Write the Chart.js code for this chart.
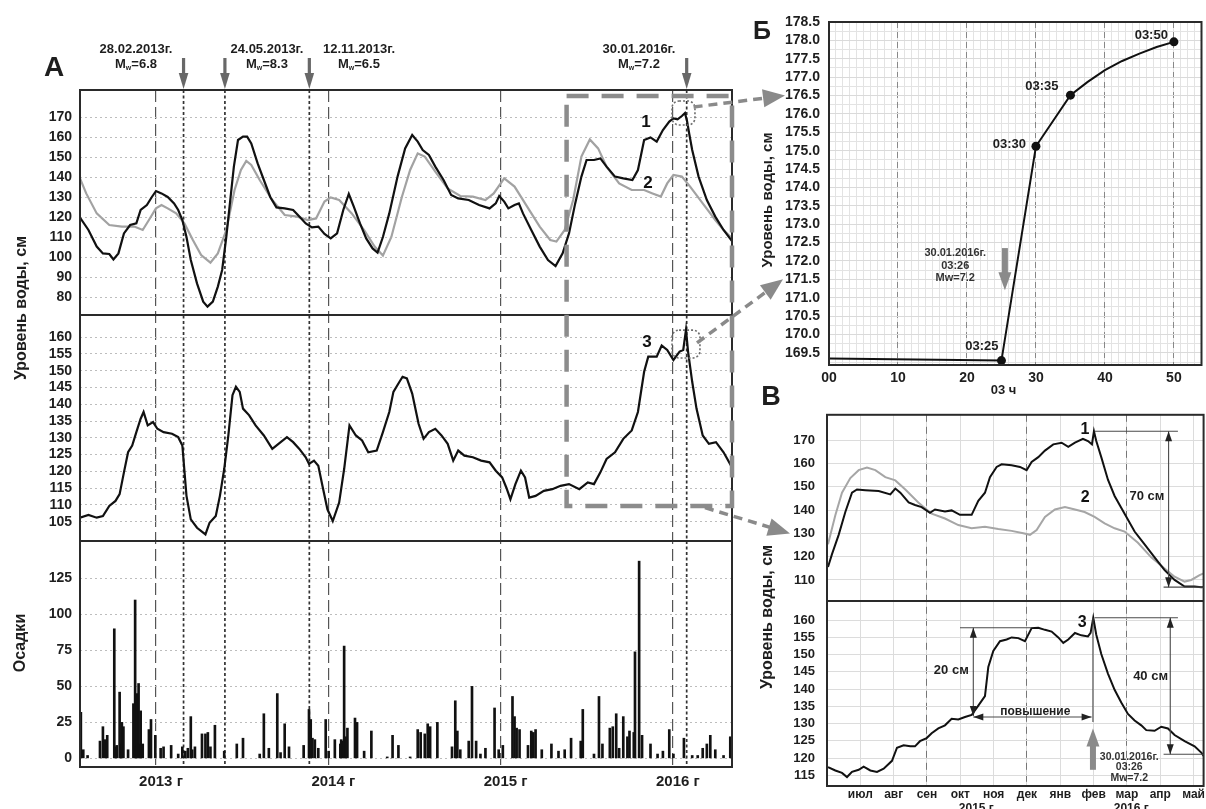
<!DOCTYPE html>
<html lang="ru">
<head>
<meta charset="utf-8">
<title>Уровень воды и осадки</title>
<script src="https://cdn.jsdelivr.net/npm/chart.js@4.4.1/dist/chart.umd.min.js"></script>
<style>
  html, body { margin: 0; padding: 0; background: #fff; }
  #page { position: relative; width: 1206px; height: 809px; overflow: hidden; background: #fff;
          font-family: "Liberation Sans", Arial, sans-serif; font-weight: bold; color: #1e1e1e; }
  #page canvas { position: absolute; }
  .letter { position: absolute; transform: translate(-50%, -50%); line-height: 1; }
  .ytitle { position: absolute; transform: translate(-50%, -50%) rotate(-90deg); white-space: nowrap; line-height: 1; }
</style>
</head>
<body>
<div id="page">
  <canvas id="chartA" width="740" height="800" style="left:0;top:0"></canvas>
  <canvas id="chartB" width="466" height="400" style="left:740px;top:0"></canvas>
  <canvas id="chartC" width="466" height="414" style="left:740px;top:395px"></canvas>
  <canvas id="links" width="1206" height="809" style="left:0;top:0;pointer-events:none"></canvas>
  <div class="letter" style="left:54px;top:67px;font-size:28px">А</div>
  <div class="letter" style="left:762px;top:30px;font-size:25px">Б</div>
  <div class="letter" style="left:771px;top:396px;font-size:27px">В</div>
  <div class="ytitle" style="left:21px;top:308px;font-size:16px">Уровень воды, см</div>
  <div class="ytitle" style="left:20px;top:643px;font-size:16px">Осадки</div>
  <div class="ytitle" style="left:766px;top:200px;font-size:15px">Уровень воды, см</div>
  <div class="ytitle" style="left:767px;top:617px;font-size:16px">Уровень воды, см</div>
</div>
<script>
const FONT = '"Liberation Sans", Arial, Helvetica, sans-serif';

// ---- panel А: 2012-2016, x in decimal years ----
const yearTicks = [2013, 2014, 2015, 2016];
const levelTicksA = [80, 90, 100, 110, 120, 130, 140, 150, 160, 170];
const levelTicksA3 = [105, 110, 115, 120, 125, 130, 135, 140, 145, 150, 155, 160];
const rainTicks = [0, 25, 50, 75, 100, 125];

// series 1 (black)
const level1 = [
  [2012.559,119.7],[2012.608,113.5],[2012.656,105.2],[2012.692,101.8],[2012.729,101.5],[2012.753,98.8],[2012.782,101.8],
  [2012.814,111.8],[2012.850,116],[2012.886,116.8],[2012.911,123.5],[2012.947,126],[2012.976,130],[2013.000,133],
  [2013.032,131.8],[2013.068,130],[2013.105,126.8],[2013.129,123.5],[2013.153,118.5],[2013.177,110],[2013.202,98.5],
  [2013.238,86.8],[2013.274,77.7],[2013.299,75.2],[2013.330,77.7],[2013.359,85.2],[2013.384,93.5],[2013.408,110],
  [2013.427,125.2],[2013.452,145.2],[2013.476,158.5],[2013.505,160.2],[2013.529,160.2],[2013.553,156.8],[2013.590,146.8],
  [2013.626,138.5],[2013.663,130],[2013.699,124.8],[2013.747,124.3],[2013.796,123.5],[2013.832,120.2],[2013.869,116.8],
  [2013.905,114.8],[2013.942,115.2],[2013.978,111.5],[2014.014,109.3],[2014.051,111.8],[2014.087,123.5],[2014.119,131.5],
  [2014.148,125.2],[2014.184,116.8],[2014.220,109.3],[2014.257,104.3],[2014.286,102.2],[2014.317,110],[2014.354,121.8],
  [2014.402,140.2],[2014.446,154.3],[2014.487,161],[2014.519,157.7],[2014.548,153.5],[2014.584,151],[2014.621,145.2],
  [2014.669,138.5],[2014.713,131],[2014.754,129.3],[2014.815,128.5],[2014.875,126],[2014.936,124.3],[2014.972,126.8],
  [2014.992,130.5],[2015.021,127.7],[2015.045,124.3],[2015.081,126],[2015.106,126.8],[2015.130,121.8],[2015.178,113.5],
  [2015.227,105.2],[2015.275,98.5],[2015.319,95.5],[2015.360,101.8],[2015.397,111.8],[2015.433,126.8],[2015.469,140.2],
  [2015.499,148.5],[2015.542,148.5],[2015.579,149.3],[2015.615,145.2],[2015.664,140.2],[2015.712,139.3],[2015.765,138.5],
  [2015.797,143.5],[2015.833,158.5],[2015.870,159.8],[2015.906,157.7],[2015.942,163.5],[2015.979,167.7],[2016.003,169.3],
  [2016.027,168.8],[2016.052,170.5],[2016.070,172],[2016.082,168],[2016.095,161.5],[2016.112,153.5],[2016.149,140.2],
  [2016.197,128.5],[2016.246,120.2],[2016.294,113.5],[2016.331,109.3],[2016.343,108]
];
// series 2 (grey)
const level2 = [
  [2012.559,139.3],[2012.595,131.8],[2012.656,121.8],[2012.729,116],[2012.802,115.2],[2012.874,115.2],[2012.923,113.5],
  [2012.959,118.5],[2013.000,124.3],[2013.032,126],[2013.068,124.3],[2013.117,121.8],[2013.165,116.8],[2013.214,108.5],
  [2013.262,101],[2013.316,97.2],[2013.359,101.8],[2013.408,113.5],[2013.456,133.5],[2013.493,143.5],[2013.524,148],
  [2013.553,146],[2013.602,138.5],[2013.675,128.5],[2013.747,121],[2013.820,120.2],[2013.881,118.5],[2013.929,119.3],
  [2013.978,127.7],[2014.014,129.8],[2014.063,128.5],[2014.136,121.8],[2014.208,113.5],[2014.269,105.2],[2014.317,100.7],
  [2014.366,110],[2014.427,130],[2014.475,143.5],[2014.519,151.8],[2014.560,150.2],[2014.621,142.7],[2014.693,134.3],
  [2014.766,130.5],[2014.839,130.2],[2014.912,128.5],[2014.960,131.8],[2015.021,139.3],[2015.081,135.2],[2015.154,125.2],
  [2015.227,115.2],[2015.288,108.5],[2015.324,107.7],[2015.372,113.5],[2015.421,128.5],[2015.469,150.2],[2015.518,158.8],
  [2015.566,154.3],[2015.615,145.2],[2015.688,136.8],[2015.761,133.5],[2015.833,133.5],[2015.882,131.8],[2015.930,130.2],
  [2015.967,136.8],[2016.003,141],[2016.052,140.2],[2016.100,135.2],[2016.173,126.8],[2016.246,118.5],[2016.294,113.5],
  [2016.343,109.3]
];
// series 3 (black, middle panel)
const level3 = [
  [2012.559,106.2],[2012.608,107],[2012.656,106.2],[2012.692,106.7],[2012.729,109.7],[2012.765,111.2],[2012.789,113.2],
  [2012.814,119.7],[2012.838,125.7],[2012.862,127.7],[2012.886,131.7],[2012.911,135.7],[2012.928,137.7],[2012.952,133.7],
  [2012.983,134.7],[2013.008,132.7],[2013.044,131.7],[2013.093,131.2],[2013.129,130.2],[2013.153,127.7],[2013.177,112.7],
  [2013.202,105.7],[2013.238,103.2],[2013.287,101.2],[2013.311,104.7],[2013.347,106.7],[2013.371,112.7],[2013.396,120.7],
  [2013.420,130.7],[2013.444,142.7],[2013.464,145.2],[2013.486,143.7],[2013.505,138.7],[2013.541,136.7],[2013.578,133.7],
  [2013.626,130.7],[2013.675,126.7],[2013.711,128.2],[2013.760,130.2],[2013.796,128.7],[2013.832,126.7],[2013.869,124.2],
  [2013.888,122.2],[2013.917,123.2],[2013.942,121.7],[2013.966,115.7],[2013.995,108.7],[2014.026,105.2],[2014.063,110.7],
  [2014.092,120.7],[2014.123,133.7],[2014.160,130.7],[2014.196,129.2],[2014.232,125.7],[2014.281,126.2],[2014.317,131.7],
  [2014.354,137.7],[2014.378,143.7],[2014.407,146.2],[2014.431,148.2],[2014.456,147.7],[2014.487,143.2],[2014.524,134.2],
  [2014.553,129.7],[2014.584,131.7],[2014.621,132.7],[2014.657,130.7],[2014.693,128.2],[2014.725,123.2],[2014.754,126.2],
  [2014.790,124.7],[2014.839,124.2],[2014.887,123.2],[2014.936,122.7],[2014.972,120.2],[2015.009,118.2],[2015.033,115.2],
  [2015.057,111.7],[2015.086,116.2],[2015.118,120.2],[2015.142,118.2],[2015.166,112.2],[2015.203,112.7],[2015.251,114.2],
  [2015.300,114.7],[2015.348,115.7],[2015.397,116.2],[2015.457,114.7],[2015.506,116.7],[2015.542,116.2],[2015.579,119.7],
  [2015.615,123.7],[2015.664,125.7],[2015.712,129.7],[2015.761,132.2],[2015.797,137.7],[2015.833,149.7],[2015.857,154.2],
  [2015.906,154.2],[2015.935,157.5],[2015.967,156.2],[2016.003,153.2],[2016.039,155.7],[2016.060,156.2],[2016.076,162.2],
  [2016.088,155.7],[2016.112,146.7],[2016.137,138.7],[2016.173,130.7],[2016.209,128.2],[2016.250,128.7],[2016.294,125.7],
  [2016.343,121.2]
];
// precipitation
const rain = [
  [2012.564,32],[2012.578,6],[2012.603,2],[2012.675,12],[2012.692,22],[2012.705,13],[2012.717,16],[2012.758,90],
  [2012.765,8],[2012.772,9],[2012.789,46],[2012.795,10],[2012.802,25],[2012.811,22],[2012.838,6],[2012.869,38],
  [2012.879,110],[2012.884,8],[2012.889,45],[2012.899,52],[2012.905,10],[2012.911,33],[2012.923,10],[2012.959,20],
  [2012.971,27],[2012.996,16],[2013.027,7],[2013.044,8],[2013.088,9],[2013.129,3],[2013.153,8],[2013.170,5],
  [2013.185,7],[2013.202,29],[2013.210,6],[2013.226,8],[2013.267,17],[2013.287,17],[2013.301,18],[2013.316,8],
  [2013.342,23],[2013.396,5],[2013.469,10],[2013.505,14],[2013.602,3],[2013.626,31],[2013.655,7],[2013.704,45],
  [2013.723,4],[2013.747,24],[2013.772,8],[2013.857,9],[2013.888,34],[2013.898,27],[2013.908,14],[2013.922,13],
  [2013.942,7],[2013.985,27],[2014.002,5],[2014.038,13],[2014.070,10],[2014.075,13],[2014.085,12],[2014.092,78],
  [2014.100,15],[2014.111,21],[2014.155,28],[2014.167,25],[2014.208,5],[2014.250,19],[2014.342,1],[2014.373,16],
  [2014.407,9],[2014.475,1],[2014.519,20],[2014.536,18],[2014.560,17],[2014.577,24],[2014.591,22],[2014.633,25],
  [2014.718,8],[2014.737,40],[2014.749,19],[2014.766,6],[2014.815,12],[2014.834,50],[2014.858,12],[2014.883,3],
  [2014.912,7],[2014.965,35],[2014.989,6],[2015.013,9],[2015.069,43],[2015.081,29],[2015.093,21],[2015.110,20],
  [2015.159,9],[2015.178,19],[2015.190,18],[2015.203,20],[2015.239,6],[2015.295,10],[2015.336,5],[2015.372,6],
  [2015.409,14],[2015.465,12],[2015.477,34],[2015.542,3],[2015.571,43],[2015.591,10],[2015.634,21],[2015.651,22],
  [2015.671,31],[2015.688,7],[2015.712,29],[2015.736,15],[2015.748,19],[2015.773,18],[2015.780,74],[2015.804,137],
  [2015.821,16],[2015.870,10],[2015.911,3],[2015.942,5],[2015.979,20],[2016.003,3],[2016.064,14],[2016.112,2],
  [2016.144,2],[2016.173,7],[2016.197,10],[2016.217,16],[2016.246,6],[2016.294,2],[2016.333,15]
];

const quakeDates = [2013.16, 2013.40, 2013.89, 2016.08];
const quakeNames = ['28.02.2013г.', '24.05.2013г.', '12.11.2013г.', '30.01.2016г.'];
const quakeMw = ['6.8', '8.3', '6.5', '7.2'];
const quakeLabelAt = [2012.884, 2013.644, 2014.178, 2015.803];
const zoomFrame = [2015.383, 180.5, 109.7];          // left year, top level (1-2), bottom level (3)
const peakBoxTop = [2015.995, 2016.128, 166, 178];
const peakBoxMid = [2015.995, 2016.157, 153.8, 162.1];

// ---- panel Б: 30.01.2016, minutes after 03:00 ----
const minuteTicks = [0, 10, 20, 30, 40, 50];
const levelTicksB = [169.5, 170, 170.5, 171, 171.5, 172, 172.5, 173, 173.5, 174, 174.5, 175, 175.5, 176, 176.5, 177, 177.5, 178, 178.5];
const tsMinute = [0, 25, 30, 35, 37.5, 40, 42.5, 45, 47.5, 50];
const tsLevel = [169.35, 169.29, 175.12, 176.51, 176.87, 177.19, 177.44, 177.64, 177.82, 177.96];
const markedMinutes = [25, 30, 35, 50];
const markedNames = ['03:25', '03:30', '03:35', '03:50'];

// ---- panel В: months since 1 Jun 2015 ----
const monthTicks = [1, 2, 3, 4, 5, 6, 7, 8, 9, 10, 11];
const monthNames = ['июл', 'авг', 'сен', 'окт', 'ноя', 'дек', 'янв', 'фев', 'мар', 'апр', 'май'];
const seasonTicks = [3, 6, 9];
const levelTicksV = [110, 120, 130, 140, 150, 160, 170];
const levelTicksV3 = [115, 120, 125, 130, 135, 140, 145, 150, 155, 160];

const vLevel1 = [
  [0.03,115.6],[0.15,121.1],[0.35,129.4],[0.55,139.2],[0.75,147.5],[0.9,148.9],[1.15,148.6],[1.55,148.2],[1.9,146.8],
  [2.05,149.3],[2.2,147.5],[2.45,143.3],[2.64,142.2],[2.84,141.3],[3.09,138.9],[3.24,140.3],[3.54,139.4],[3.74,139.9],
  [3.99,138],[4.34,138],[4.54,144],[4.74,147.5],[4.89,154.2],[5.09,158.6],[5.24,159.7],[5.54,159.3],[5.79,158.6],
  [5.99,157.2],[6.14,160.7],[6.34,162.8],[6.54,165.6],[6.79,168.3],[7.04,169],[7.24,167.2],[7.44,169],[7.68,170.7],
  [7.83,169.7],[7.95,168.3],[8.01,173.9],[8.08,169.7],[8.23,162.8],[8.43,153.1],[8.63,146.1],[8.93,138.5],[9.23,130.8],
  [9.53,125.3],[9.83,119.7],[10.13,114.2],[10.43,110],[10.73,107.2],[11.03,107.2],[11.23,106.9],[11.3,107]
];
const vLevel2 = [
  [0.03,125.3],[0.25,137.8],[0.45,147.5],[0.7,153.8],[0.95,157.2],[1.2,158.3],[1.45,157.2],[1.75,154.2],[2.05,152.8],
  [2.35,148.9],[2.74,143.3],[3.14,138.5],[3.54,136.4],[3.94,133.6],[4.34,132.2],[4.74,132.9],[5.14,131.9],[5.54,131.1],
  [5.89,130.1],[6.09,129.4],[6.29,131.5],[6.54,137.1],[6.84,140.3],[7.14,141.3],[7.44,140.3],[7.73,139.2],[8.03,137.1],
  [8.33,134.3],[8.63,132.2],[8.93,130.8],[9.33,126],[9.73,119.7],[10.13,114.9],[10.43,111.4],[10.73,109.3],[10.93,110],
  [11.18,112.1],[11.3,112.8]
];
const vLevel3 = [
  [0.03,117.4],[0.25,116.4],[0.45,115.7],[0.6,114.5],[0.75,116],[0.95,116.6],[1.1,117.5],[1.3,116.4],[1.5,116],
  [1.7,116.9],[1.95,119.2],[2.1,123],[2.3,123.7],[2.5,123.4],[2.64,123.4],[2.79,124.9],[2.99,125.8],[3.14,127.2],
  [3.34,128.6],[3.54,129.5],[3.74,131.4],[3.94,131.2],[4.14,131.9],[4.34,132.5],[4.54,135.2],[4.74,138],[4.84,146.4],
  [4.99,151.1],[5.19,153.9],[5.39,154.4],[5.54,155],[5.74,154.8],[5.94,153.9],[6.14,157.7],[6.34,157.8],[6.54,157.2],
  [6.74,156.7],[6.94,155],[7.09,153.4],[7.24,154.4],[7.44,156.3],[7.63,155.6],[7.83,155.3],[7.91,156.3],[7.99,160.7],
  [8.08,155.8],[8.23,150.2],[8.43,144.5],[8.63,139.8],[8.83,136.1],[9.03,132.8],[9.23,130.9],[9.43,129.5],[9.58,128.1],
  [9.83,127.9],[10.03,129.1],[10.23,128.6],[10.43,126.7],[10.73,124.9],[11.03,123.4],[11.23,121.6],[11.3,120.6]
];
const dropUpper = [173.9, 106.9];     // series 1: peak and later minimum
const dropLower = [160.7, 121.1];     // series 3
const riseLower = [157.8, 132.2];     // series 3 rise before the quake
const riseSpan = [4.39, 7.94];
const quakeMonth = 7.98;

const xy = pairs => pairs.map(([x, y]) => ({ x, y }));
const bold = size => ({ family: FONT, size, weight: 'bold' });
const ink = '#1e1e1e';

function seg(ctx, x1, y1, x2, y2) {
  ctx.beginPath(); ctx.moveTo(x1, y1); ctx.lineTo(x2, y2); ctx.stroke();
}
function head(ctx, x, y, ang, len, half) {
  const c = Math.cos(ang), s = Math.sin(ang);
  ctx.beginPath();
  ctx.moveTo(x, y);
  ctx.lineTo(x - len * c - half * s, y - len * s + half * c);
  ctx.lineTo(x - len * c + half * s, y - len * s - half * c);
  ctx.closePath();
  ctx.fill();
}
function doubleArrow(ctx, x1, y1, x2, y2) {
  seg(ctx, x1, y1, x2, y2);
  const ang = Math.atan2(y2 - y1, x2 - x1);
  head(ctx, x2, y2, ang, 10, 3.5);
  head(ctx, x1, y1, ang + Math.PI, 10, 3.5);
}
function label(ctx, t, x, y, size, align = 'center') {
  ctx.font = `bold ${size}px ${FONT}`;
  ctx.textAlign = align;
  ctx.textBaseline = 'middle';
  ctx.fillText(t, x, y);
}
function drawMw(ctx, cx, cy, mag) {
  const big = `bold 13px ${FONT}`, small = `bold 7px ${FONT}`;
  ctx.textAlign = 'left'; ctx.textBaseline = 'middle';
  ctx.font = big;
  const wM = ctx.measureText('M').width, rest = '=' + mag, wR = ctx.measureText(rest).width;
  ctx.font = small;
  const wW = ctx.measureText('w').width;
  const sx = cx - (wM + wW + wR) / 2;
  ctx.font = big; ctx.fillText('M', sx, cy);
  ctx.font = small; ctx.fillText('w', sx + wM, cy + 4);
  ctx.font = big; ctx.fillText(rest, sx + wM + wW, cy);
}

// ---------- panel А ----------
const panelADecor = {
  id: 'panelADecor',
  beforeDatasetsDraw(chart) {
    const { ctx, chartArea: a, scales: { x } } = chart;
    ctx.save();
    ctx.strokeStyle = '#333'; ctx.lineWidth = 1.7; ctx.setLineDash([3, 2.5]);
    quakeDates.forEach(d => {
      const px = x.getPixelForValue(d);
      seg(ctx, px, a.top, px, a.bottom);
    });
    ctx.restore();
  },
  afterDatasetsDraw(chart) {
    const { ctx, chartArea: a, scales: { x, y1, y2 } } = chart;
    ctx.save();
    // frame and panel separators
    ctx.strokeStyle = '#2a2a2a'; ctx.lineWidth = 2;
    ctx.strokeRect(a.left, a.top, a.width, a.height);
    seg(ctx, a.left, y1.bottom, a.right, y1.bottom);
    seg(ctx, a.left, y2.bottom, a.right, y2.bottom);
    // zoomed region
    ctx.strokeStyle = '#8c8c8c'; ctx.lineWidth = 4.5; ctx.setLineDash([22, 13]);
    const fx = x.getPixelForValue(zoomFrame[0]);
    const fy0 = y1.getPixelForValue(zoomFrame[1]), fy1 = y2.getPixelForValue(zoomFrame[2]);
    ctx.strokeRect(fx, fy0, a.right - fx, fy1 - fy0);
    // little dotted boxes round the peaks
    ctx.strokeStyle = '#6e6e6e'; ctx.lineWidth = 1.6; ctx.setLineDash([2, 2]);
    [[peakBoxTop, y1], [peakBoxMid, y2]].forEach(([b, ys]) => {
      const l = x.getPixelForValue(b[0]), r = x.getPixelForValue(b[1]);
      const t = ys.getPixelForValue(b[3]), btm = ys.getPixelForValue(b[2]);
      ctx.beginPath(); ctx.roundRect(l, t, r - l, btm - t, 7); ctx.stroke();
    });
    ctx.setLineDash([]);
    // series numbers
    ctx.fillStyle = '#111';
    label(ctx, '1', x.getPixelForValue(2015.844), y1.getPixelForValue(167.5), 17);
    label(ctx, '2', x.getPixelForValue(2015.855), y1.getPixelForValue(137), 17);
    label(ctx, '3', x.getPixelForValue(2015.85), y2.getPixelForValue(158.6), 17);
    // earthquake arrows and captions
    ctx.fillStyle = '#686868';
    quakeDates.forEach(d => {
      const px = x.getPixelForValue(d);
      ctx.fillRect(px - 1.6, a.top - 32, 3.2, 18);
      head(ctx, px, a.top - 1, Math.PI / 2, 16, 4.8);
    });
    ctx.fillStyle = ink;
    quakeNames.forEach((t, i) => {
      const cx = x.getPixelForValue(quakeLabelAt[i]);
      label(ctx, t, cx, a.top - 41, 13);
      drawMw(ctx, cx, a.top - 26, quakeMw[i]);
    });
    ctx.restore();
  }
};

const gridDots = { color: '#bdbdbd', lineWidth: 1, drawTicks: false };
const yTicksA = { font: bold(14), color: ink, padding: 8, autoSkip: false };

const chartA = new Chart(document.getElementById('chartA'), {
  type: 'line',
  data: {
    datasets: [
      { label: '1', data: xy(level1), yAxisID: 'y1', borderColor: '#111', borderWidth: 2.2, pointRadius: 0 },
      { label: '2', data: xy(level2), yAxisID: 'y1', borderColor: '#a2a2a2', borderWidth: 2.2, pointRadius: 0 },
      { label: '3', data: xy(level3), yAxisID: 'y2', borderColor: '#111', borderWidth: 2.2, pointRadius: 0 },
      { type: 'bar', label: 'Осадки', data: xy(rain), yAxisID: 'y3', backgroundColor: '#111', barThickness: 2 }
    ]
  },
  options: {
    responsive: false, animation: false, devicePixelRatio: 1,
    layout: { padding: { top: 90, right: 8, left: 0, bottom: 0 } },
    plugins: { legend: { display: false }, tooltip: { enabled: false } },
    scales: {
      x: {
        type: 'linear', position: 'bottom', min: 2012.559, max: 2016.343, offset: false,
        afterBuildTicks: s => { s.ticks = yearTicks.map(v => ({ value: v })); },
        afterFit: s => { s.height = 33; },
        grid: { color: '#555', lineWidth: 1.2, drawTicks: false, offset: false },
        border: { display: false, dash: [12, 5] },
        ticks: { font: bold(15), color: ink, padding: 6, labelOffset: 5, maxRotation: 0, autoSkip: false, callback: v => v + ' г' }
      },
      y3: {
        type: 'linear', position: 'left', stack: 'a', stackWeight: 226, weight: 1, min: -6, max: 151,
        afterBuildTicks: s => { s.ticks = rainTicks.map(v => ({ value: v })); },
        afterFit: s => { s.width = 80; },
        grid: gridDots, border: { display: false, dash: [2, 3] }, ticks: yTicksA
      },
      y2: {
        type: 'linear', position: 'left', stack: 'a', stackWeight: 226, weight: 2, min: 99.25, max: 166.6,
        afterBuildTicks: s => { s.ticks = levelTicksA3.map(v => ({ value: v })); },
        afterFit: s => { s.width = 80; },
        grid: gridDots, border: { display: false, dash: [2, 3] }, ticks: yTicksA
      },
      y1: {
        type: 'linear', position: 'left', stack: 'a', stackWeight: 225, weight: 3, min: 71, max: 183.5,
        afterBuildTicks: s => { s.ticks = levelTicksA.map(v => ({ value: v })); },
        afterFit: s => { s.width = 80; },
        grid: gridDots, border: { display: false, dash: [2, 3] }, ticks: yTicksA
      }
    }
  },
  plugins: [panelADecor]
});

// ---------- panel Б ----------
const panelBDecor = {
  id: 'panelBDecor',
  afterDatasetsDraw(chart) {
    const { ctx, chartArea: a, scales: { x, y } } = chart;
    ctx.save();
    ctx.strokeStyle = '#2a2a2a'; ctx.lineWidth = 2;
    ctx.strokeRect(a.left, a.top, a.width, a.height);
    ctx.fillStyle = ink;
    const shifts = [[-3, -14], [-10, -2], [-12, -9], [-6, -6]];
    markedMinutes.forEach((m, i) => {
      const k = tsMinute.indexOf(m);
      label(ctx, markedNames[i], x.getPixelForValue(m) + shifts[i][0], y.getPixelForValue(tsLevel[k]) + shifts[i][1], 13, 'right');
    });
    // earthquake marker
    const qx = x.getPixelForValue(25.5);
    const qt = y.getPixelForValue(172.35), qb = y.getPixelForValue(171.2);
    ctx.fillStyle = '#8a8a8a';
    ctx.fillRect(qx - 3, qt, 6, qb - qt - 16);
    head(ctx, qx, qb, Math.PI / 2, 18, 6.5);
    ctx.fillStyle = '#333';
    ['30.01.2016г.', '03:26', 'Mw=7.2'].forEach((t, i) => {
      label(ctx, t, x.getPixelForValue(18.3), y.getPixelForValue([172.21, 171.86, 171.53][i]), 11);
    });
    ctx.fillStyle = ink;
    label(ctx, '03 ч', x.getPixelForValue(25.3), a.bottom + 25, 13);
    ctx.restore();
  }
};

const chartB = new Chart(document.getElementById('chartB'), {
  type: 'line',
  data: {
    datasets: [{
      data: tsMinute.map((m, i) => ({ x: m, y: tsLevel[i] })),
      borderColor: '#111', borderWidth: 2, tension: 0,
      pointRadius: c => markedMinutes.includes(tsMinute[c.dataIndex]) ? 4.5 : 0,
      pointBackgroundColor: '#111', pointBorderWidth: 0
    }]
  },
  options: {
    responsive: false, animation: false, devicePixelRatio: 1,
    layout: { padding: { top: 22, right: 1, left: 0, bottom: 0 } },
    plugins: { legend: { display: false }, tooltip: { enabled: false } },
    scales: {
      xMinor: {
        axis: 'x', type: 'linear', position: 'bottom', min: 0, max: 54, z: -1,
        afterBuildTicks: s => { s.ticks = Array.from({ length: 55 }, (_, i) => ({ value: i })); },
        afterFit: s => { s.height = 0; },
        grid: { color: '#e3e3e3', lineWidth: 1, drawTicks: false }, border: { display: false }, ticks: { display: false }
      },
      yMinor: {
        axis: 'y', type: 'linear', position: 'left', min: 169.17, max: 178.5, z: -1,
        afterBuildTicks: s => { s.ticks = Array.from({ length: 38 }, (_, i) => ({ value: 169.25 + i * 0.25 })); },
        afterFit: s => { s.width = 0; },
        grid: { color: '#e3e3e3', lineWidth: 1, drawTicks: false }, border: { display: false }, ticks: { display: false }
      },
      x: {
        type: 'linear', position: 'bottom', min: 0, max: 54,
        afterBuildTicks: s => { s.ticks = minuteTicks.map(v => ({ value: v })); },
        afterFit: s => { s.height = 35; },
        grid: { color: c => c.tick && c.tick.value === 0 ? 'rgba(0,0,0,0)' : '#888', lineWidth: 1, drawTicks: false },
        border: { display: false, dash: [6, 4] },
        ticks: { font: bold(14), color: ink, padding: 5, autoSkip: false, maxRotation: 0, callback: v => String(v).padStart(2, '0') }
      },
      y: {
        type: 'linear', position: 'left', min: 169.17, max: 178.5,
        afterBuildTicks: s => { s.ticks = levelTicksB.map(v => ({ value: v })); },
        afterFit: s => { s.width = 89; },
        grid: { color: '#dadada', lineWidth: 1, drawTicks: false }, border: { display: false },
        ticks: { font: bold(14), color: ink, padding: 9, autoSkip: false, callback: v => v.toFixed(1) }
      }
    }
  },
  plugins: [panelBDecor]
});

// ---------- panel В ----------
const panelCDecor = {
  id: 'panelCDecor',
  afterDatasetsDraw(chart) {
    const { ctx, chartArea: a, scales: { x, yU, yL } } = chart;
    const X = v => x.getPixelForValue(v);
    ctx.save();
    ctx.strokeStyle = '#2a2a2a'; ctx.lineWidth = 2;
    ctx.strokeRect(a.left, a.top, a.width, a.height);
    seg(ctx, a.left, yU.bottom, a.right, yU.bottom);

    ctx.strokeStyle = '#4a4a4a'; ctx.fillStyle = '#222'; ctx.lineWidth = 1.1;
    // upper: 70 cm drop
    let t = yU.getPixelForValue(dropUpper[0]), b = yU.getPixelForValue(dropUpper[1]);
    seg(ctx, X(8.03), t, X(10.53), t);
    seg(ctx, X(10.1), b, X(11.3), b);
    doubleArrow(ctx, X(10.25), t, X(10.25), b);
    // lower: 20 cm rise
    t = yL.getPixelForValue(riseLower[0]); b = yL.getPixelForValue(riseLower[1]);
    seg(ctx, X(3.99), t, X(6.14), t);
    doubleArrow(ctx, X(riseSpan[0]), t, X(riseSpan[0]), b);
    const ry = yL.getPixelForValue(131.9);
    doubleArrow(ctx, X(riseSpan[0]), ry, X(riseSpan[1]), ry);
    seg(ctx, X(quakeMonth), yL.getPixelForValue(dropLower[0]), X(quakeMonth), yL.getPixelForValue(130.5));
    // lower: 40 cm drop
    t = yL.getPixelForValue(dropLower[0]); b = yL.getPixelForValue(dropLower[1]);
    seg(ctx, X(8.03), t, X(10.53), t);
    seg(ctx, X(10.1), b, X(11.3), b);
    doubleArrow(ctx, X(10.3), t, X(10.3), b);
    // earthquake arrow
    const qx = X(quakeMonth), qb = yL.getPixelForValue(116.6), qt = yL.getPixelForValue(128.6);
    ctx.fillStyle = '#8a8a8a';
    ctx.fillRect(qx - 3, qt + 16, 6, qb - qt - 16);
    head(ctx, qx, qt, -Math.PI / 2, 18, 6.5);
    // texts
    ctx.fillStyle = '#111';
    label(ctx, '1', X(7.74), yU.getPixelForValue(174.7), 16);
    label(ctx, '2', X(7.75), yU.getPixelForValue(145.5), 16);
    label(ctx, '3', X(7.66), yL.getPixelForValue(159.4), 16);
    ctx.fillStyle = ink;
    label(ctx, '70 см', X(9.6), yU.getPixelForValue(146), 13);
    label(ctx, '20 см', X(3.73), yL.getPixelForValue(145.4), 13);
    label(ctx, '40 см', X(9.71), yL.getPixelForValue(143.8), 13);
    label(ctx, 'повышение', X(6.25), yL.getPixelForValue(133.6), 12);
    ctx.fillStyle = '#333';
    ['30.01.2016г.', '03:26', 'Mw=7.2'].forEach((s, i) => {
      label(ctx, s, X(9.07), yL.getPixelForValue([120.4, 117.3, 114.3][i]), 10.5);
    });
    ctx.fillStyle = ink;
    label(ctx, '2015 г', X(4.48), a.bottom + 23, 12);
    label(ctx, '2016 г', X(9.13), a.bottom + 23, 12);
    ctx.restore();
  }
};

const gridLight = { color: '#dcdcdc', lineWidth: 1, drawTicks: false };
const yTicksV = { font: bold(13), color: ink, padding: 12, autoSkip: false };

const chartC = new Chart(document.getElementById('chartC'), {
  type: 'line',
  data: {
    datasets: [
      { label: '1', data: xy(vLevel1), yAxisID: 'yU', borderColor: '#111', borderWidth: 2, pointRadius: 0 },
      { label: '2', data: xy(vLevel2), yAxisID: 'yU', borderColor: '#a6a6a6', borderWidth: 2, pointRadius: 0 },
      { label: '3', data: xy(vLevel3), yAxisID: 'yL', borderColor: '#111', borderWidth: 2, pointRadius: 0 }
    ]
  },
  options: {
    responsive: false, animation: false, devicePixelRatio: 1,
    layout: { padding: { top: 8, right: 1, left: 0, bottom: 0 } },
    plugins: { legend: { display: false }, tooltip: { enabled: false } },
    scales: {
      x: {
        type: 'linear', position: 'bottom', min: 0, max: 11.3, z: -1,
        afterBuildTicks: s => { s.ticks = monthTicks.map(v => ({ value: v })); },
        afterFit: s => { s.height = 23; },
        grid: gridLight, border: { display: false },
        ticks: { font: bold(12), color: ink, padding: 1, autoSkip: false, maxRotation: 0, callback: v => monthNames[v - 1] }
      },
      xQ: {
        axis: 'x', type: 'linear', position: 'bottom', min: 0, max: 11.3,
        afterBuildTicks: s => { s.ticks = seasonTicks.map(v => ({ value: v })); },
        afterFit: s => { s.height = 0; },
        grid: { color: '#777', lineWidth: 1, drawTicks: false }, border: { display: false, dash: [7, 5] }, ticks: { display: false }
      },
      yL: {
        type: 'linear', position: 'left', stack: 'v', stackWeight: 191, weight: 1, min: 111.9, max: 165.6,
        afterBuildTicks: s => { s.ticks = levelTicksV3.map(v => ({ value: v })); },
        afterFit: s => { s.width = 87; },
        grid: gridLight, border: { display: false }, ticks: yTicksV
      },
      yU: {
        type: 'linear', position: 'left', stack: 'v', stackWeight: 192, weight: 2, min: 101, max: 181,
        afterBuildTicks: s => { s.ticks = levelTicksV.map(v => ({ value: v })); },
        afterFit: s => { s.width = 87; },
        grid: gridLight, border: { display: false }, ticks: yTicksV
      }
    }
  },
  plugins: [panelCDecor]
});

// ---------- dashed links between the panels ----------
const linkPeakTop = [2016.12, 175, 176.5];   // А series 1 -> Б level
const linkPeakMid = [2016.14, 158.3, 171.5]; // А series 3 -> Б level
const linkFrame = [2016.186, 109.2, 130];    // zoom frame -> В level

function drawLinks() {
  const ctx = document.getElementById('links').getContext('2d');
  const ox = ch => ch.canvas.offsetLeft, oy = ch => ch.canvas.offsetTop;
  const A = chartA.scales;
  const routes = [
    [ox(chartA) + A.x.getPixelForValue(linkPeakTop[0]), oy(chartA) + A.y1.getPixelForValue(linkPeakTop[1]),
     ox(chartB) + chartB.chartArea.left - 44, oy(chartB) + chartB.scales.y.getPixelForValue(linkPeakTop[2])],
    [ox(chartA) + A.x.getPixelForValue(linkPeakMid[0]), oy(chartA) + A.y2.getPixelForValue(linkPeakMid[1]),
     ox(chartB) + chartB.chartArea.left - 46, oy(chartB) + chartB.scales.y.getPixelForValue(linkPeakMid[2])],
    [ox(chartA) + A.x.getPixelForValue(linkFrame[0]), oy(chartA) + A.y2.getPixelForValue(linkFrame[1]),
     ox(chartC) + chartC.chartArea.left - 37, oy(chartC) + chartC.scales.yU.getPixelForValue(linkFrame[2])]
  ];
  ctx.strokeStyle = '#8a8a8a'; ctx.fillStyle = '#8a8a8a'; ctx.lineWidth = 3.5;
  routes.forEach(([x1, y1, x2, y2]) => {
    const ang = Math.atan2(y2 - y1, x2 - x1);
    ctx.setLineDash([9, 6]);
    seg(ctx, x1, y1, x2 - 20 * Math.cos(ang), y2 - 20 * Math.sin(ang));
    ctx.setLineDash([]);
    head(ctx, x2, y2, ang, 22, 9);
  });
}
drawLinks();
</script>
</body>
</html>
